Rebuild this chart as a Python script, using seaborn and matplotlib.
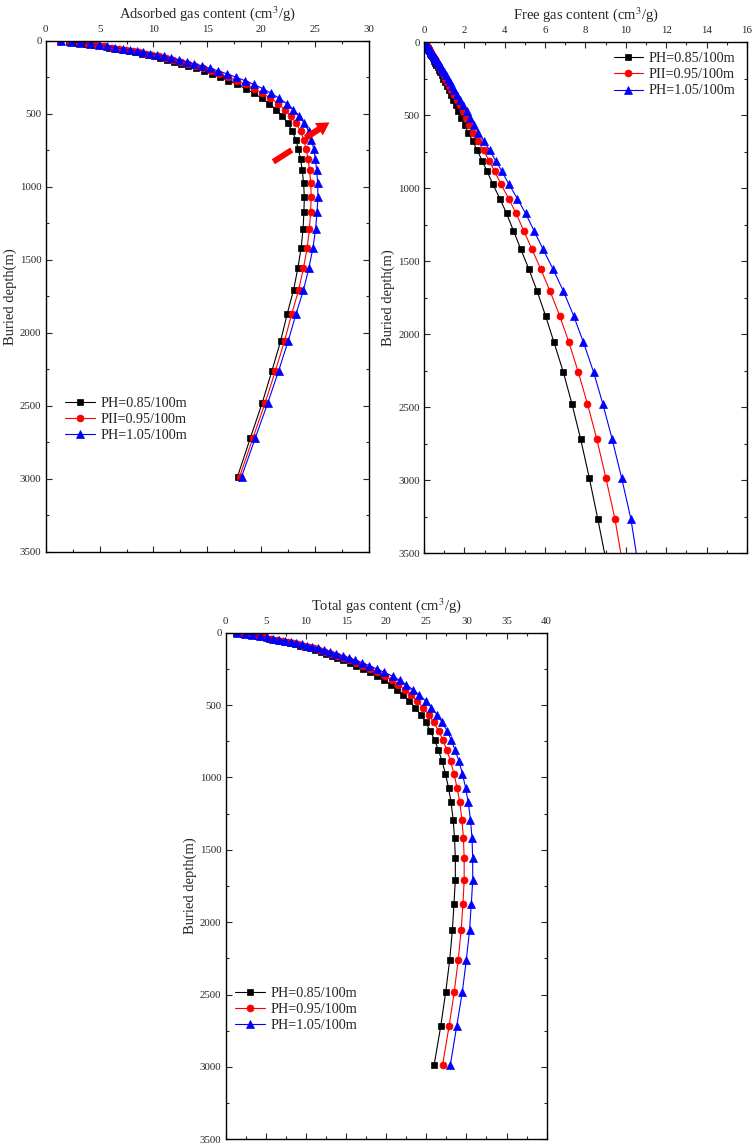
import matplotlib
matplotlib.use("Agg")
import matplotlib.pyplot as plt
import seaborn as sns
from matplotlib.ticker import MultipleLocator

# Buried depth of each computed point (m)
depth = [0, 8, 16, 24, 32, 40, 48, 56, 64, 72, 80, 89, 98, 108, 119, 131, 144, 158, 173, 190,
         208, 228, 250, 274, 300, 329, 360, 394, 431, 472, 517, 566, 620, 678, 742, 812, 886,
         973, 1073, 1173, 1292, 1420, 1557, 1708, 1874, 2057, 2260, 2479, 2719, 2986, 3267, 3574]

labels_top = ["PH=0.85/100m", "PII=0.95/100m", "PH=1.05/100m"]
labels_bottom = ["PH=0.85/100m", "PH=0.95/100m", "PH=1.05/100m"]

# Adsorbed gas content (cm3/g), points down to 2986 m
ads_085 = [1.3, 2.15, 2.95, 3.75, 4.5, 5.2, 5.9, 6.55, 7.15, 7.75, 8.3, 8.9, 9.45, 10.05, 10.65,
           11.3, 11.95, 12.6, 13.25, 13.95, 14.65, 15.4, 16.15, 16.95, 17.75, 18.55, 19.3, 20.05,
           20.75, 21.4, 21.95, 22.45, 22.9, 23.2, 23.45, 23.65, 23.8, 23.93, 24.0, 23.96, 23.88,
           23.7, 23.4, 23.0, 22.4, 21.8, 21.0, 20.1, 19.0, 17.8]
ads_095 = [1.35, 2.25, 3.08, 3.92, 4.7, 5.43, 6.16, 6.84, 7.47, 8.1, 8.68, 9.31, 9.89, 10.52,
           11.15, 11.83, 12.51, 13.2, 13.88, 14.61, 15.34, 16.12, 16.9, 17.72, 18.54, 19.35, 20.1,
           20.85, 21.55, 22.2, 22.74, 23.23, 23.66, 23.94, 24.17, 24.35, 24.48, 24.59, 24.64,
           24.58, 24.47, 24.26, 23.92, 23.47, 22.82, 22.16, 21.32, 20.37, 19.24, 18.0]
ads_105 = [1.4, 2.35, 3.21, 4.09, 4.9, 5.66, 6.42, 7.13, 7.79, 8.45, 9.06, 9.72, 10.33, 10.99,
           11.65, 12.36, 13.07, 13.8, 14.51, 15.27, 16.03, 16.84, 17.65, 18.49, 19.33, 20.15, 20.9,
           21.65, 22.35, 22.99, 23.52, 23.99, 24.4, 24.66, 24.87, 25.03, 25.14, 25.23, 25.26,
           25.18, 25.04, 24.8, 24.42, 23.92, 23.22, 22.5, 21.62, 20.62, 19.46, 18.18]

# Free gas content (cm3/g), points down to 3574 m
free_085 = [0.03, 0.06, 0.09, 0.12, 0.15, 0.18, 0.21, 0.24, 0.27, 0.3, 0.33, 0.36, 0.4, 0.44,
            0.48, 0.52, 0.57, 0.62, 0.67, 0.73, 0.8, 0.87, 0.95, 1.03, 1.12, 1.22, 1.33, 1.45,
            1.58, 1.71, 1.85, 2.01, 2.19, 2.41, 2.64, 2.88, 3.13, 3.41, 3.76, 4.09, 4.43, 4.8,
            5.2, 5.61, 6.02, 6.44, 6.9, 7.33, 7.76, 8.19, 8.61, 9.05]
free_095 = [0.03, 0.07, 0.1, 0.13, 0.17, 0.2, 0.23, 0.27, 0.3, 0.34, 0.37, 0.4, 0.45, 0.49,
            0.54, 0.58, 0.64, 0.69, 0.75, 0.82, 0.89, 0.97, 1.06, 1.15, 1.25, 1.36, 1.49, 1.62,
            1.77, 1.91, 2.07, 2.25, 2.45, 2.69, 2.95, 3.22, 3.5, 3.81, 4.2, 4.56, 4.94, 5.35,
            5.79, 6.25, 6.72, 7.18, 7.64, 8.1, 8.56, 9.01, 9.46, 9.84]
free_105 = [0.04, 0.07, 0.11, 0.15, 0.19, 0.22, 0.26, 0.3, 0.33, 0.37, 0.41, 0.44, 0.49, 0.54,
            0.59, 0.64, 0.7, 0.77, 0.83, 0.9, 0.99, 1.07, 1.17, 1.27, 1.38, 1.51, 1.64, 1.79,
            1.95, 2.11, 2.28, 2.48, 2.7, 2.97, 3.25, 3.55, 3.86, 4.2, 4.63, 5.03, 5.45, 5.9,
            6.4, 6.91, 7.41, 7.9, 8.4, 8.86, 9.32, 9.79, 10.25, 10.6]

# Total gas content (cm3/g), points down to 2986 m
total_085 = [1.33, 2.21, 3.04, 3.87, 4.65, 5.38, 6.11, 6.79, 7.42, 8.05, 8.63, 9.26, 9.85, 10.49,
             11.13, 11.82, 12.52, 13.22, 13.92, 14.68, 15.45, 16.27, 17.1, 17.98, 18.87, 19.77,
             20.55, 21.35, 22.1, 22.9, 23.6, 24.3, 24.93, 25.5, 26.03, 26.52, 26.96, 27.38,
             27.78, 28.09, 28.35, 28.52, 28.62, 28.62, 28.45, 28.25, 27.92, 27.43, 26.8, 25.98]
total_095 = [1.38, 2.32, 3.18, 4.05, 4.87, 5.63, 6.39, 7.11, 7.77, 8.44, 9.05, 9.71, 10.34, 11.01,
             11.69, 12.41, 13.15, 13.89, 14.63, 15.43, 16.23, 17.09, 17.96, 18.87, 19.85, 20.72,
             21.53, 22.35, 23.15, 23.9, 24.6, 25.3, 25.95, 26.53, 27.08, 27.56, 28.02, 28.45,
             28.84, 29.18, 29.44, 29.63, 29.72, 29.72, 29.57, 29.34, 28.98, 28.49, 27.84, 27.03]
total_105 = [1.44, 2.42, 3.32, 4.24, 5.09, 5.88, 6.68, 7.43, 8.12, 8.82, 9.47, 10.16, 10.82, 11.53,
             12.24, 13.0, 13.77, 14.57, 15.34, 16.17, 17.02, 17.91, 18.82, 19.76, 20.8, 21.7,
             22.51, 23.35, 24.15, 24.93, 25.63, 26.35, 27.0, 27.59, 28.11, 28.6, 29.06, 29.5,
             29.9, 30.23, 30.51, 30.7, 30.78, 30.79, 30.61, 30.39, 29.99, 29.5, 28.79, 28.0]

colors = ["black", "red", "blue"]
markers = ["s", "o", "^"]
msizes = [4.3, 5.0, 5.7]

sns.set_style("ticks")
plt.rcParams["font.family"] = ["Liberation Serif", "DejaVu Serif"]
plt.rcParams["mathtext.fontset"] = "stix"


def draw_panel(ax, series, labels, title, xmax, xmajor):
    for vals, lab, c, m, ms in zip(series, labels, colors, markers, msizes):
        n = len(vals)
        sns.lineplot(x=vals, y=depth[:n], ax=ax, sort=False, estimator=None,
                     color=c, marker=m, markersize=ms, markeredgecolor=c,
                     markeredgewidth=0.5, linewidth=0.8, label=lab, clip_on=True)
    ax.set_xlim(0, xmax)
    ax.set_ylim(3500, 0)
    ax.xaxis.tick_top()
    ax.xaxis.set_label_position("top")
    ax.xaxis.set_major_locator(MultipleLocator(xmajor))
    ax.xaxis.set_minor_locator(MultipleLocator(xmajor / 2))
    ax.yaxis.set_major_locator(MultipleLocator(500))
    ax.yaxis.set_minor_locator(MultipleLocator(250))
    ax.tick_params(which="both", direction="in", top=True, bottom=True, left=True, right=True,
                   labeltop=True, labelbottom=False, labelsize=7.8, width=0.8)
    ax.tick_params(axis="x", pad=5)
    ax.tick_params(axis="y", pad=3)
    ax.tick_params(which="major", length=4)
    ax.tick_params(which="minor", length=2.5)
    for s in ax.spines.values():
        s.set_linewidth(1.0)
        s.set_color("black")
    ax.set_xlabel(title, fontsize=10.5, labelpad=5)
    ax.set_ylabel("Buried depth(m)", fontsize=10.5, labelpad=2)


fig = plt.figure(figsize=(7.54, 11.45), dpi=100)
ax1 = fig.add_axes([0.0606, 0.5182, 0.4288, 0.4463])
ax2 = fig.add_axes([0.5623, 0.5170, 0.4284, 0.4463])
ax3 = fig.add_axes([0.2993, 0.0050, 0.4257, 0.4424])

draw_panel(ax1, [ads_085, ads_095, ads_105], labels_top,
           "Adsorbed gas content (cm$^3$/g)", 30, 5)
draw_panel(ax2, [free_085, free_095, free_105], labels_top,
           "Free gas content (cm$^3$/g)", 16, 2)
draw_panel(ax3, [total_085, total_095, total_105], labels_bottom,
           "Total gas content (cm$^3$/g)", 40, 5)

leg_kw = dict(frameon=False, fontsize=10.2, handlelength=2.1, handletextpad=0.4,
              labelspacing=0.22, borderpad=0.0, borderaxespad=0.0)
ax1.legend(loc="center left", bbox_to_anchor=(0.06, 0.258), **leg_kw)
ax2.legend(loc="upper right", bbox_to_anchor=(0.965, 0.98), **leg_kw)
ax3.legend(loc="center left", bbox_to_anchor=(0.03, 0.256), **leg_kw)

# red arrow in the adsorbed panel (tail piece + arrow head)
ax1.plot([0.704, 0.761], [0.763, 0.786], transform=ax1.transAxes, color="red",
         linewidth=4.2, solid_capstyle="butt", zorder=1)
ax1.annotate("", xy=(0.885, 0.843), xytext=(0.797, 0.807), xycoords="axes fraction",
             arrowprops=dict(arrowstyle="simple,tail_width=0.32,head_width=0.75,head_length=0.65",
                             mutation_scale=14, color="red", lw=0))

fig.savefig("out.png", dpi=100)
